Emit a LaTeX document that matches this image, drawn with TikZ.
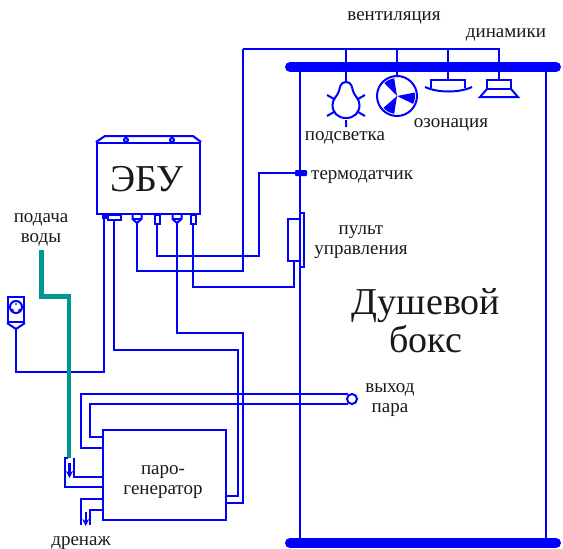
\documentclass[tikz,border=0pt]{standalone}
\usepackage{fontspec}
\setmainfont{Liberation Serif}
\usetikzlibrary{arrows.meta,calc}
\definecolor{wireblue}{RGB}{0,0,255}
\definecolor{pipeteal}{RGB}{0,150,145}

\begin{document}
\begin{tikzpicture}[
    x=1pt,y=-1pt,
    font=\fontsize{19}{20}\selectfont,
    wire/.style={draw=wireblue,line width=2pt,line join=miter},
    box/.style={rectangle,draw=wireblue,line width=2pt,inner sep=0pt,fill=white},
    pipe/.style={draw=pipeteal,line width=4.5pt},
    rail/.style={draw=wireblue,line width=10pt,line cap=round},
    flow/.style={draw=wireblue,line width=2.2pt,-{Stealth[length=7pt,width=7pt]}},
    label/.style={inner sep=0pt,text=black!90,anchor=base},
    stacked/.style={inner sep=0pt,text=black!90,align=center},
    big/.style={stacked,font=\fontsize{38}{38}\selectfont},
    ]
    \useasboundingbox (0,0) rectangle (563,549);

    % shower box
    \coordinate (railTL) at (290,67);
    \coordinate (railTR) at (556,67);
    \coordinate (railBL) at (290,543);
    \coordinate (railBR) at (556,543);
    \coordinate (wallTL) at (300,67);
    \coordinate (wallTR) at (546,67);
    \coordinate (wallBL) at (300,543);
    \coordinate (wallBR) at (546,543);
    \draw[wire] (wallTL) -- (wallBL);
    \draw[wire] (wallTR) -- (wallBR);
    \draw[rail] (railTL) -- (railTR);
    \draw[rail] (railBL) -- (railBR);

    % control unit
    \node[box,minimum width=103pt,minimum height=71pt] (ecu) at (148.5,178.5) {};
    \node[big] (tEcu) at (147,179) {ЭБУ};
    \draw[wire] (ecu.north west) -- (105,136) -- (193,136) -- (ecu.north east);
    \node[box,circle,minimum size=4pt] (hole1) at (126,140) {};
    \node[box,circle,minimum size=4pt] (hole2) at (172,140) {};
    \node[box,minimum width=3pt,minimum height=3pt,fill=wireblue,anchor=north] (pinA) at (104,214) {};
    \node[box,minimum width=13pt,minimum height=5pt,anchor=north] (pinB) at (114,214) {};
    \node[box,minimum width=5pt,minimum height=9pt,anchor=north] (pinD) at (157,214) {};
    \node[box,minimum width=5pt,minimum height=9pt,anchor=north] (pinF) at (193,214) {};
    \coordinate (pinC) at (137,223);
    \coordinate (pinE) at (177,223);
    \draw[wire] (132.5,214) -- (132.5,219) -- (pinC) -- (141.5,219) -- (141.5,214);
    \draw[wire] (132.5,219) -- (141.5,219);
    \draw[wire] (172.5,214) -- (172.5,219) -- (pinE) -- (181.5,219) -- (181.5,214);
    \draw[wire] (172.5,219) -- (181.5,219);

    % loads on the top rail
    \coordinate (busL) at (243,49);
    \coordinate (busR) at (499,49);
    \coordinate (tapLamp) at (346,49);
    \coordinate (tapFan) at (397,49);
    \coordinate (tapOzone) at (448,49);
    \coordinate (lampNeck) at (346,82);
    \coordinate (ozoneTop) at (448,80);
    \coordinate (speakerTop) at (499,80);
    \draw[wire] (busL) -- (busR) -- (speakerTop);
    \draw[wire] (tapOzone) -- (ozoneTop);
    \node[box,circle,minimum size=40pt] (fan) at (397,96) {};
    \draw[wire] (tapFan) -- (fan.north);
    \draw[wire] (tapLamp) -- (lampNeck);

    % lamp
    \draw[wire] (lampNeck) .. controls (340,82) and (340,88) .. (339,91) .. controls (337.5,96) and (332.5,99) .. (332.5,105)
        .. controls (332.5,113) and (338,118) .. (346,118) .. controls (354,118) and (359.5,113) .. (359.5,105)
        .. controls (359.5,99) and (354.5,96) .. (353,91) .. controls (352,88) and (352,82) .. (lampNeck);
    \draw[wire] (327,95) -- (334,99) (365,95) -- (358,99) (327,116) -- (334,112) (365,116) -- (358,112) (346,120) -- (346,127);

    % fan blades
    \foreach \a/\b in {99/135,-26/11,221/261}
        \fill[wireblue] (fan.center) -- ($(fan.center)+(\a:18 and -18)$) arc[start angle=-\a,end angle=-\b,radius=18] -- cycle;

    % ozone lamp
    \draw[wire] (431,88) -- (431,80) -- (465,80) -- (465,88);
    \draw[wire] (425,87) .. controls (438,93) and (459,93) .. (472,87);

    % speaker
    \draw[wire] (487,89) -- (487,80) -- (511,80) -- (511,89) -- cycle;
    \draw[wire] (487,89) -- (480,97) -- (518,97) -- (511,89);

    % sensor and panel
    \node[rectangle,fill=wireblue,minimum width=12pt,minimum height=6pt,inner sep=0pt,rounded corners=1pt] (sensor) at (301,173) {};
    \node[box,minimum width=4pt,minimum height=54pt] (panelB) at (302,240) {};
    \node[box,minimum width=12pt,minimum height=42pt] (panel) at (294,240) {};

    % wires from the unit
    \coordinate (bendD1) at (157,256);
    \coordinate (bendD2) at (259,256);
    \coordinate (bendD3) at (259,173);
    \draw[wire] (pinD.south) -- (bendD1) -- (bendD2) -- (bendD3) -- (sensor.west);
    \coordinate (bendC1) at (137,271);
    \coordinate (bendC2) at (243,271);
    \draw[wire] (pinC) -- (bendC1) -- (bendC2) -- (busL);
    \coordinate (bendF1) at (193,287);
    \coordinate (bendF2) at (294,287);
    \draw[wire] (pinF.south) -- (bendF1) -- (bendF2) -- (bendF2 |- panel.south);

    % socket
    \node[box,minimum width=16pt,minimum height=25pt] (socket) at (16,309.5) {};
    \coordinate (socketTip) at (16,329);
    \draw[wire] (socket.south west) -- (socketTip) -- (socket.south east);
    \node[box,circle,minimum size=12pt] (socketFace) at (16,307) {};
    \draw[wireblue,line width=1.2pt] (12,309) -- (13.5,310.5) (20,309) -- (18.5,310.5) (16,303) -- (16,305);
    \coordinate (bendA1) at (16,372);
    \coordinate (bendA2) at (104,372);
    \draw[wire] (socketTip) -- (bendA1) -- (bendA2) -- (pinA.south);

    % steam generator
    \node[box,minimum width=123pt,minimum height=90pt] (gen) at (164.5,475) {};
    \coordinate (bendB1) at (114,350);
    \coordinate (bendB2) at (238,350);
    \coordinate (bendB3) at (238,496);
    \draw[wire] (pinB.south) -- (bendB1) -- (bendB2) -- (bendB3) -- (bendB3 -| gen.east);
    \coordinate (bendE1) at (177,333);
    \coordinate (bendE2) at (243,333);
    \coordinate (bendE3) at (243,503);
    \draw[wire] (pinE) -- (bendE1) -- (bendE2) -- (bendE3) -- (bendE3 -| gen.east);

    % steam outlet
    \node[box,circle,minimum size=10pt] (outlet) at (352,399) {};
    \coordinate (steamA1) at (81,394);
    \coordinate (steamA2) at (81,448);
    \coordinate (steamB1) at (90,404);
    \coordinate (steamB2) at (90,437);
    \draw[wire] (outlet.north west |- steamA1) -- (steamA1) -- (steamA2) -- (steamA2 -| gen.west);
    \draw[wire] (outlet.south west |- steamB1) -- (steamB1) -- (steamB2) -- (steamB2 -| gen.west);

    % water inlet
    \coordinate (waterA) at (41.7,250);
    \coordinate (waterB) at (41.7,296.7);
    \coordinate (waterC) at (69,296.7);
    \coordinate (waterD) at (69,458);
    \draw[pipe] (waterA) -- (waterB) -- (waterC) -- (waterD);
    \coordinate (inA0) at (68,458);
    \coordinate (inA1) at (65,458);
    \coordinate (inA2) at (65,487);
    \coordinate (inB1) at (74,458);
    \coordinate (inB2) at (74,477);
    \coordinate (inFlowA) at (69.5,463);
    \coordinate (inFlowB) at (69.5,478);
    \draw[wire] (inA0) -- (inA1) -- (inA2) -- (inA2 -| gen.west);
    \draw[wire] (inB1) -- (inB2) -- (inB2 -| gen.west);
    \draw[flow] (inFlowA) -- (inFlowB);

    % drain
    \coordinate (drainA1) at (81,525);
    \coordinate (drainA2) at (81,499);
    \coordinate (drainB1) at (90,525);
    \coordinate (drainB2) at (90,510);
    \coordinate (drainIn) at (85.7,512);
    \coordinate (drainOut) at (85.7,526);
    \draw[wire] (drainA1) -- (drainA2) -- (drainA2 -| gen.west);
    \draw[wire] (drainB1) -- (drainB2) -- (drainB2 -| gen.west);
    \draw[flow] (drainIn) -- (drainOut);

    % labels
    \node[label] (tVent) at (394,20.5) {вентиляция};
    \node[label] (tSpeak) at (506,37.5) {динамики};
    \node[label] (tLight) at (345,140.5) {подсветка};
    \node[label] (tOzone) at (451,127.5) {озонация};
    \node[label,anchor=base west] (tSensor) at (311,179.5) {термодатчик};
    \node[stacked] (tPanel) at (361,242) {пульт\\управления};
    \node[big] (tBox) at (426,321) {Душевой\\бокс};
    \node[stacked] (tWater) at (41,230) {подача\\воды};
    \node[stacked] (tSteam) at (390,400) {выход\\пара};
    \node[stacked] (tGen) at (163,482.5) {паро-\\генератор};
    \node[label] (tDrain) at (81,545) {дренаж};
\end{tikzpicture}
\end{document}
